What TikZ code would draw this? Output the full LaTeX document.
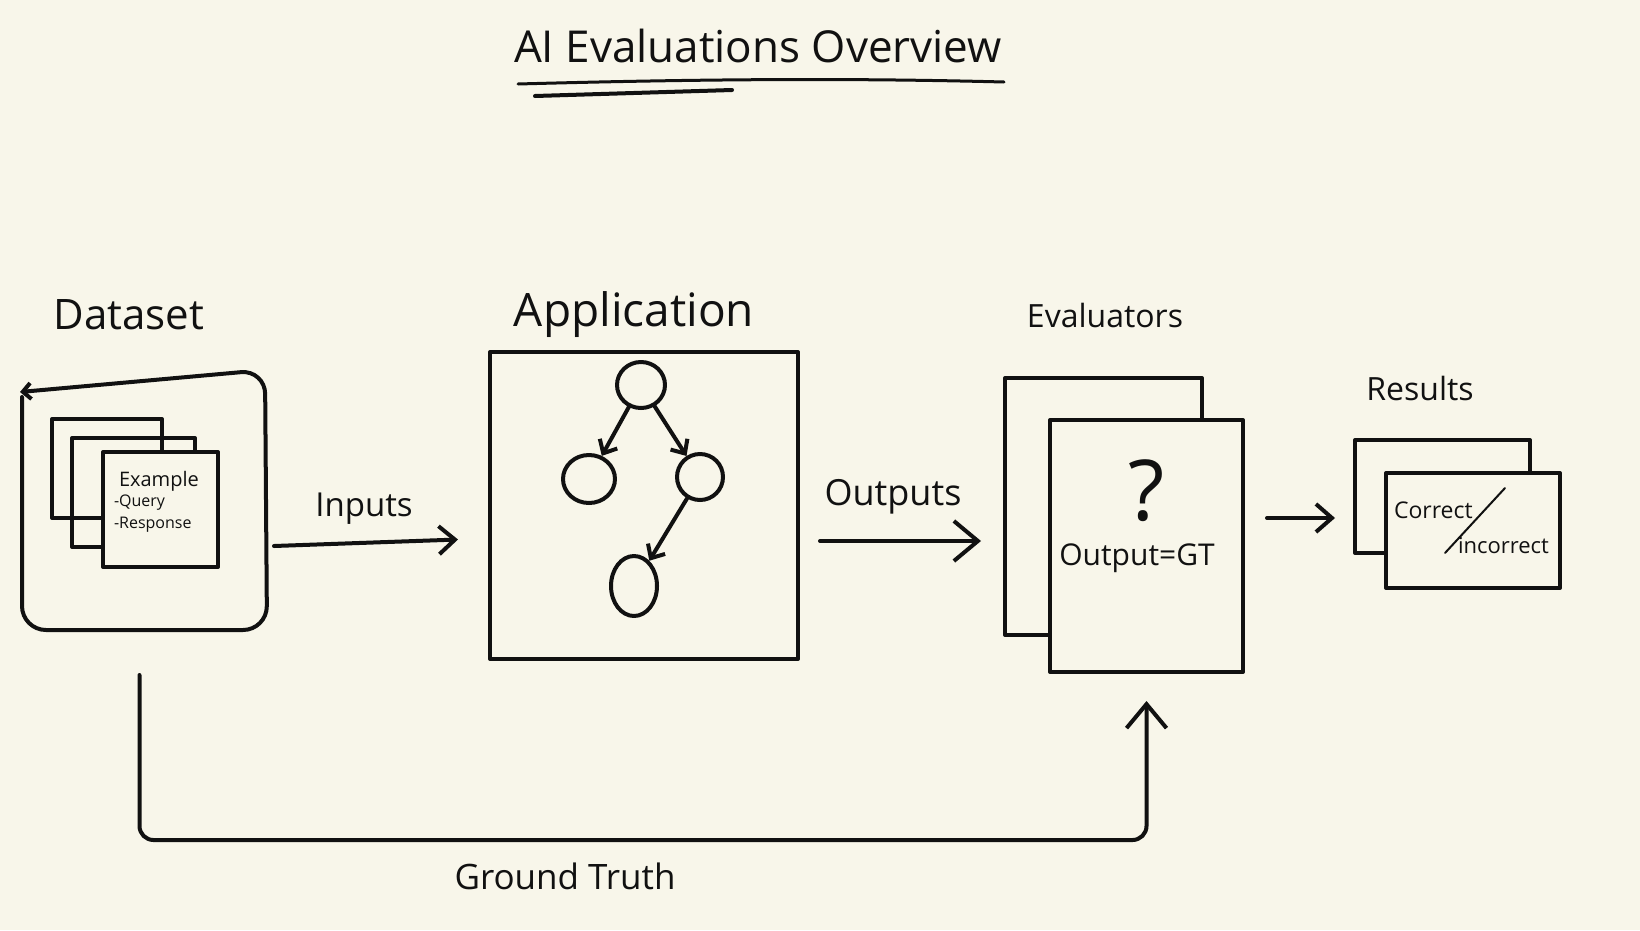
\documentclass[tikz,border=0pt]{standalone}
\usepackage{fontspec}
\setmainfont{Open Sans}
\usetikzlibrary{arrows.meta,shapes.geometric}
\definecolor{bgc}{HTML}{F8F6EA}
\definecolor{ink}{HTML}{111111}
\newcommand{\fs}[1]{\fontsize{#1}{#1}\selectfont}
\begin{document}
\begin{tikzpicture}[x=1pt,y=-1pt,line width=4pt,line cap=round,line join=round,
  card/.style={draw=ink,rectangle,inner sep=0pt,line width=4pt},
  frontcard/.style={card,fill=bgc},
  lbl/.style={text=ink,inner sep=0pt,anchor=base},
  txt/.style={text=ink,inner sep=0pt,anchor=base west},
  arr/.style={draw=ink,-{Straight Barb[length=16pt,width=28pt]}},
  bigarr/.style={draw=ink,-{Straight Barb[length=24pt,width=40pt]}},
  tarr/.style={draw=ink,-{Straight Barb[length=11pt,width=20pt]}},
  tnode/.style={draw=ink,ellipse,inner sep=0pt,line width=4pt}]
\fill[bgc] (0,0) rectangle (1640,930);
\useasboundingbox (0,0) rectangle (1640,930);

% title
\node[lbl,font=\fs{44}] (title) at (758,62) {AI Evaluations Overview};
\draw[ink,line width=3pt] (518,84) .. controls (700,79) and (850,78) .. (1004,82);
\draw[ink,line width=4pt] (535,96) -- (732,90);

% dataset
\node[lbl,font=\fs{42}] (dslbl) at (129,329) {Dataset};
\node[rectangle,minimum width=245pt,minimum height=260pt,inner sep=0pt] (dsbox) at (144.5,500) {};
\draw[ink,-{Straight Barb[length=8pt,width=16pt]},rounded corners=24pt]
  (22,397) -- (22,630) -- (267,630) -- (265,370) -- (20,392);
\node[card,minimum width=110pt,minimum height=99pt] (dscard1) at (107,468.5) {};
\node[card,minimum width=123pt,minimum height=109pt] (dscard2) at (133.5,492.5) {};
\node[frontcard,minimum width=115pt,minimum height=115pt] (dscard3) at (160.5,509.5) {};
\node[txt,font=\fs{20}] (ex) at (117,486) {Example};
\node[txt,font=\fs{16}] (exq) at (112,506) {-Query};
\node[txt,font=\fs{16}] (exr) at (112,528) {-Response};

% application
\node[lbl,font=\fs{46}] (applbl) at (634,326) {Application};
\node[card,minimum width=308pt,minimum height=307pt] (app) at (644,505.5) {};
\node[tnode,minimum width=48pt,minimum height=46pt] (t1) at (641,385) {};
\node[tnode,minimum width=52pt,minimum height=48pt] (t2) at (589,479) {};
\node[tnode,minimum width=46pt,minimum height=46pt] (t3) at (700,477) {};
\node[tnode,minimum width=46pt,minimum height=60pt] (t4) at (634,586) {};
\draw[tarr] (t1) -- (t2);
\draw[tarr] (t1) -- (t3);
\draw[tarr] (t3) -- (t4);

% inputs
\node[lbl,font=\fs{33}] (inlbl) at (364,516) {Inputs};
\draw[arr] ([shift={(5,46)}]dsbox.east) -- ([shift={(-30,34)}]app.west);

% evaluators
\node[lbl,font=\fs{32}] (evlbl) at (1105,327) {Evaluators};
\node[card,minimum width=197pt,minimum height=257pt] (evback) at (1103.5,506.5) {};
\node[frontcard,minimum width=193pt,minimum height=252pt] (evfront) at (1146.5,546) {};
\node[lbl,font=\fs{84}] (q) at (1147,520) {?};
\node[lbl,font=\fs{30}] (oeq) at (1137,565) {Output=GT};

% outputs
\node[lbl,font=\fs{36}] (outlbl) at (893,505) {Outputs};
\draw[bigarr] ([shift={(20,35.5)}]app.east) -- ([shift={(-22,34.5)}]evback.west);

% results
\node[lbl,font=\fs{32}] (reslbl) at (1420,400) {Results};
\node[card,minimum width=175pt,minimum height=113pt] (resback) at (1442.5,496.5) {};
\node[frontcard,minimum width=174pt,minimum height=115pt] (resfront) at (1473,530.5) {};
\node[txt,font=\fs{23}] (corr) at (1392,518) {Correct};
\node[txt,font=\fs{22}] (incorr) at (1456,553) {incorrect};
\draw[ink,line width=2pt] (1445,553) -- (1505,488);
\draw[arr] ([shift={(22,-28)}]evfront.east) -- ([shift={(-18,21.5)}]resback.west);

% ground truth
\draw[bigarr,rounded corners=14pt] ([shift={(-5,43)}]dsbox.south) -- ++(0,165) -| ([yshift=-27pt]evfront.south);
\node[lbl,font=\fs{35}] (gtlbl) at (565,889) {Ground Truth};
\end{tikzpicture}
\end{document}
